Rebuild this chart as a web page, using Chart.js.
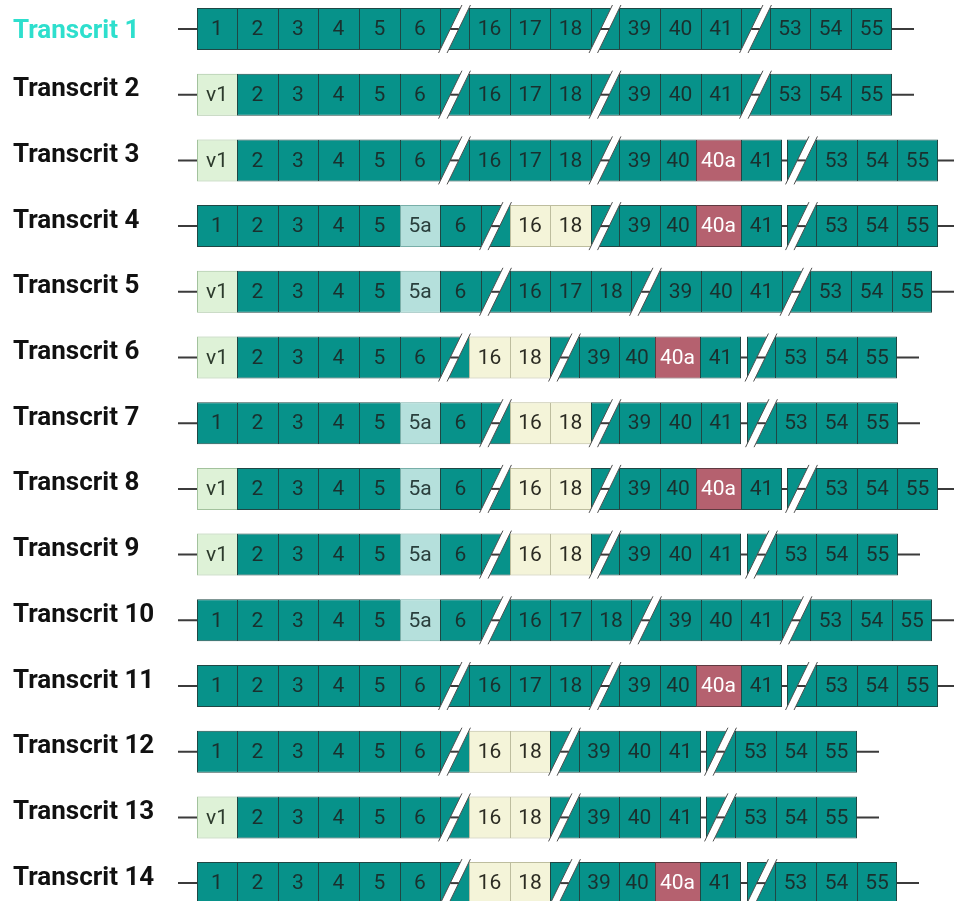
<!DOCTYPE html>
<html>
<head>
<meta charset="utf-8">
<script src="https://cdn.jsdelivr.net/npm/chart.js@4.4.0/dist/chart.umd.min.js"></script>
<style>
html,body{margin:0;padding:0;background:#ffffff;}
#wrap{width:954px;height:901px;position:relative;}
</style>
</head>
<body>
<div id="wrap"><canvas id="c"></canvas></div>
<script>
// ---- data ----
const transcripts = ["Transcrit 1","Transcrit 2","Transcrit 3","Transcrit 4","Transcrit 5","Transcrit 6","Transcrit 7",
  "Transcrit 8","Transcrit 9","Transcrit 10","Transcrit 11","Transcrit 12","Transcrit 13","Transcrit 14"];

// "/" = cut (omitted exons), "-" = intron gap
const exonRows = [
  ["1","2","3","4","5","6","/","16","17","18","/","39","40","41","/","53","54","55"],
  ["v1","2","3","4","5","6","/","16","17","18","/","39","40","41","/","53","54","55"],
  ["v1","2","3","4","5","6","/","16","17","18","/","39","40","40a","41","-","/","53","54","55"],
  ["1","2","3","4","5","5a","6","/","16","18","/","39","40","40a","41","-","/","53","54","55"],
  ["v1","2","3","4","5","5a","6","/","16","17","18","/","39","40","41","/","53","54","55"],
  ["v1","2","3","4","5","6","/","16","18","/","39","40","40a","41","-","/","53","54","55"],
  ["1","2","3","4","5","5a","6","/","16","18","/","39","40","41","-","/","53","54","55"],
  ["v1","2","3","4","5","5a","6","/","16","18","/","39","40","40a","41","-","/","53","54","55"],
  ["v1","2","3","4","5","5a","6","/","16","18","/","39","40","41","-","/","53","54","55"],
  ["1","2","3","4","5","5a","6","/","16","17","18","/","39","40","41","/","53","54","55"],
  ["1","2","3","4","5","6","/","16","17","18","/","39","40","40a","41","-","/","53","54","55"],
  ["1","2","3","4","5","6","/","16","18","/","39","40","41","-","/","53","54","55"],
  ["v1","2","3","4","5","6","/","16","18","/","39","40","41","-","/","53","54","55"],
  ["1","2","3","4","5","6","/","16","18","/","39","40","40a","41","-","/","53","54","55"]
];

// ---- layout constants ----
const X_LINE_START = 178, X_START = 196.5, EXON_W = 40.65, CUT_W = 28.5, GAP_W = 5.8, TAIL = 22;
const ROW_STEP = 65.7, FIRST_ROW = 29, H = 901, CHART_LEFT = 173;

function tokenWidth(row, k) {
  const t = row[k];
  if (t === "/") return CUT_W;
  if (t === "-") return GAP_W;
  if (t === "40a") return 45;
  if (t === "40" && row[k + 1] === "40a") return 36;
  return EXON_W;
}
function kindOf(row, t) {
  if (t === "/") return "cut";
  if (t === "v1") return "v1";
  if (t === "5a") return "5a";
  if (t === "40a") return "40a";
  if ((t === "16" || t === "18") && !row.includes("17")) return "skip";
  return "exon";
}

const boxes = [], introns = [];
exonRows.forEach((row, i) => {
  let x = X_START;
  row.forEach((t, k) => {
    const w = tokenWidth(row, k);
    if (t !== "-") {
      const nxt = row[k + 1];
      boxes.push({ y: i, x: [Math.round(x), Math.round(x + w)], label: t, kind: kindOf(row, t),
                   last: (nxt === undefined || nxt === "-") });
    }
    x += w;
  });
  introns.push({ y: i, x: [X_LINE_START, Math.round(x + TAIL)] });
});

const FILL = { exon: "#07928A", cut: "#07928A", v1: "#DEF2D7", "5a": "#B5E0DC", skip: "#F4F4D9", "40a": "#B5616F" };
const EDGE = { exon: "#1F4744", cut: "#1F4744", v1: "#A3C29D", "5a": "#79AEA8", skip: "#BDBD9E", "40a": "#5E3A40" };
const TEXT = { exon: "#1A302E", v1: "#2c3a2c", "5a": "#2a3f3d", skip: "#2b2b22", "40a": "#FFFFFF" };
const LINE_COLOR = "#3b3b3b";

const decorPlugin = {
  id: "exonDecor",
  afterDatasetsDraw(chart) {
    const ctx = chart.ctx;
    const meta = chart.getDatasetMeta(1);
    const yScale = chart.scales.y;
    ctx.save();
    meta.data.forEach((el, idx) => {
      const raw = boxes[idx];
      const p = el.getProps(["x", "y", "base"], true);
      const cx = (p.x + p.base) / 2, cy = p.y;
      if (raw.kind === "cut") {
        const h = 48, sk = 11.7, w = 8.5;
        ctx.beginPath();
        ctx.moveTo(cx + sk - w / 2, cy - h / 2);
        ctx.lineTo(cx + sk + w / 2, cy - h / 2);
        ctx.lineTo(cx - sk + w / 2, cy + h / 2);
        ctx.lineTo(cx - sk - w / 2, cy + h / 2);
        ctx.closePath();
        ctx.fillStyle = "#ffffff";
        ctx.fill();
        ctx.strokeStyle = "#4f4f4f";
        ctx.lineWidth = 1;
        ctx.beginPath();
        ctx.moveTo(cx + sk - w / 2, cy - h / 2); ctx.lineTo(cx - sk - w / 2, cy + h / 2);
        ctx.moveTo(cx + sk + w / 2, cy - h / 2); ctx.lineTo(cx - sk + w / 2, cy + h / 2);
        ctx.stroke();
        ctx.strokeStyle = LINE_COLOR;
        ctx.lineWidth = 2;
        ctx.beginPath();
        ctx.moveTo(cx - w / 2, cy); ctx.lineTo(cx + w / 2, cy);
        ctx.stroke();
      } else {
        ctx.font = "21px Roboto";
        ctx.textAlign = "center";
        ctx.textBaseline = "middle";
        ctx.fillStyle = TEXT[raw.kind];
        ctx.fillText(raw.label, cx, cy + 1);
      }
    });
    // transcript names, placed on the category positions of the y scale
    ctx.font = "bold 26px Roboto";
    ctx.textAlign = "left";
    ctx.textBaseline = "middle";
    transcripts.forEach((name, i) => {
      const y = yScale.getPixelForValue(i) + (i === 0 ? 2 : -5);
      ctx.fillStyle = i === 0 ? "#2EDFCD" : "#111111";
      ctx.fillText(name, 13, y);
    });
    ctx.restore();
  }
};

new Chart(document.getElementById("c"), {
  type: "bar",
  data: {
    datasets: [
      {
        label: "introns",
        data: introns,
        backgroundColor: LINE_COLOR,
        borderWidth: 0,
        barThickness: 2,
        inflateAmount: 0,
        grouped: false,
        order: 2
      },
      {
        label: "exons",
        data: boxes,
        backgroundColor: (c) => FILL[c.raw.kind],
        borderColor: (c) => EDGE[c.raw.kind],
        borderWidth: (c) => c.raw.last ? 1 : { left: 1, top: 1, bottom: 1, right: 0 },
        borderSkipped: false,
        barThickness: 42,
        inflateAmount: 0,
        grouped: false,
        order: 1
      }
    ]
  },
  options: {
    indexAxis: "y",
    responsive: true,
    maintainAspectRatio: false,
    animation: false,
    events: [],
    layout: { padding: { left: CHART_LEFT, right: 0, top: 0, bottom: 0 } },
    plugins: { legend: { display: false }, tooltip: { enabled: false } },
    scales: {
      x: { type: "linear", display: false, min: CHART_LEFT, max: 954 },
      y: {
        type: "linear",
        display: false,
        reverse: true,
        offset: false,
        min: -FIRST_ROW / ROW_STEP,
        max: (H - FIRST_ROW) / ROW_STEP
      }
    }
  },
  plugins: [decorPlugin]
});
</script>
</body>
</html>
